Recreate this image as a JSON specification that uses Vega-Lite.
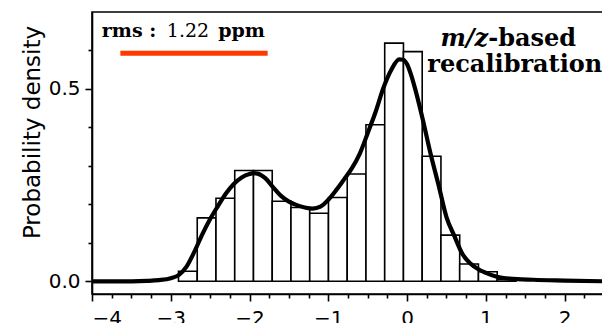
{
  "$schema": "https://vega.github.io/schema/vega-lite/v6.json",
  "autosize": {"type": "none"},
  "width": 512,
  "height": 282,
  "padding": {"left": 92, "top": 12, "right": 0, "bottom": 29},
  "background": "white",
  "config": {
    "view": {"stroke": "black", "strokeWidth": 1.6},
    "axis": {"grid": false, "domainColor": "black", "domainWidth": 1.6, "tickColor": "black", "tickWidth": 1.6, "labelColor": "black", "labelFont": "DejaVu Sans", "labelFontSize": 20, "titleFont": "DejaVu Sans", "titleFontSize": 23, "titleFontWeight": "normal", "titleColor": "black"}
  },
  "datasets": {
    "hist": [
      {"start": -2.902, "end": -2.664, "density": 0.026},
      {"start": -2.664, "end": -2.426, "density": 0.165},
      {"start": -2.426, "end": -2.188, "density": 0.216},
      {"start": -2.188, "end": -1.95, "density": 0.288},
      {"start": -1.95, "end": -1.712, "density": 0.288},
      {"start": -1.712, "end": -1.474, "density": 0.208},
      {"start": -1.474, "end": -1.236, "density": 0.192},
      {"start": -1.236, "end": -0.998, "density": 0.177},
      {"start": -0.998, "end": -0.76, "density": 0.218},
      {"start": -0.76, "end": -0.522, "density": 0.279},
      {"start": -0.522, "end": -0.284, "density": 0.407},
      {"start": -0.284, "end": -0.046, "density": 0.619},
      {"start": -0.046, "end": 0.192, "density": 0.597},
      {"start": 0.192, "end": 0.43, "density": 0.325},
      {"start": 0.43, "end": 0.668, "density": 0.12},
      {"start": 0.668, "end": 0.906, "density": 0.045},
      {"start": 0.906, "end": 1.144, "density": 0.025},
      {"start": 1.144, "end": 1.382, "density": 0.005}
    ],
    "kde": [
      {"x": -4.0, "y": 0}, {"x": -3.5, "y": 0}, {"x": -3.3, "y": 0.001}, {"x": -3.15, "y": 0.003},
      {"x": -3.0, "y": 0.008}, {"x": -2.9, "y": 0.016}, {"x": -2.8, "y": 0.038}, {"x": -2.7, "y": 0.077},
      {"x": -2.6, "y": 0.122}, {"x": -2.5, "y": 0.162}, {"x": -2.4, "y": 0.196}, {"x": -2.3, "y": 0.228},
      {"x": -2.2, "y": 0.253}, {"x": -2.1, "y": 0.27}, {"x": -2.0, "y": 0.279}, {"x": -1.95, "y": 0.281},
      {"x": -1.9, "y": 0.28}, {"x": -1.8, "y": 0.268}, {"x": -1.7, "y": 0.244}, {"x": -1.6, "y": 0.222},
      {"x": -1.5, "y": 0.207}, {"x": -1.4, "y": 0.198}, {"x": -1.3, "y": 0.192}, {"x": -1.2, "y": 0.189},
      {"x": -1.1, "y": 0.194}, {"x": -1.0, "y": 0.212}, {"x": -0.9, "y": 0.237}, {"x": -0.8, "y": 0.265},
      {"x": -0.7, "y": 0.294}, {"x": -0.6, "y": 0.332}, {"x": -0.5, "y": 0.385}, {"x": -0.4, "y": 0.44},
      {"x": -0.3, "y": 0.503}, {"x": -0.2, "y": 0.55}, {"x": -0.1, "y": 0.577}, {"x": -0.05, "y": 0.576},
      {"x": 0.0, "y": 0.564}, {"x": 0.05, "y": 0.537}, {"x": 0.1, "y": 0.502}, {"x": 0.2, "y": 0.42},
      {"x": 0.3, "y": 0.33}, {"x": 0.4, "y": 0.25}, {"x": 0.5, "y": 0.167}, {"x": 0.6, "y": 0.118},
      {"x": 0.7, "y": 0.072}, {"x": 0.8, "y": 0.047}, {"x": 0.9, "y": 0.032}, {"x": 1.0, "y": 0.022},
      {"x": 1.14, "y": 0.012}, {"x": 1.3, "y": 0.007}, {"x": 1.6, "y": 0.004}, {"x": 2.0, "y": 0.002},
      {"x": 2.5, "y": 0.0}
    ],
    "one": [{"k": 1}]
  },
  "layer": [
    {
      "data": {"name": "hist"},
      "mark": {"type": "bar", "fill": "white", "stroke": "black", "strokeWidth": 1.6, "clip": true},
      "encoding": {
        "x": {"field": "start", "type": "quantitative", "scale": {"domain": [-4, 2.5], "nice": false, "zero": false},
              "axis": {"orient": "bottom", "title": null, "values": [-4, -3, -2, -1, 0, 1, 2], "format": "d", "tickSize": 7, "labelPadding": 7}},
        "x2": {"field": "end"},
        "y": {"field": "density", "type": "quantitative", "scale": {"domain": [-0.033, 0.7], "nice": false, "zero": false},
              "axis": {"orient": "left", "title": "Probability density", "values": [0, 0.5], "format": ".1f", "tickSize": 7, "labelPadding": 5, "titlePadding": 4, "titleY": 120}},
        "y2": {"datum": 0}
      }
    },
    {
      "data": {"name": "kde"},
      "mark": {"type": "line", "stroke": "black", "strokeWidth": 4.2, "clip": true, "interpolate": "monotone"},
      "encoding": {
        "x": {"field": "x", "type": "quantitative",
              "axis": {"orient": "bottom", "title": null, "labels": false, "domain": false, "tickSize": 4,
                       "values": [-3.75, -3.5, -3.25, -2.75, -2.5, -2.25, -1.75, -1.5, -1.25, -0.75, -0.5, -0.25, 0.25, 0.5, 0.75, 1.25, 1.5, 1.75, 2.25, 2.5]}},
        "y": {"field": "y", "type": "quantitative",
              "axis": {"orient": "left", "title": null, "labels": false, "domain": false, "tickSize": 4, "values": [0.1, 0.2, 0.3, 0.4, 0.6]}}
      }
    },
    {
      "data": {"name": "one"},
      "mark": {"type": "rule", "stroke": "#ff3a00", "strokeWidth": 5},
      "encoding": {
        "x": {"datum": -3.64, "type": "quantitative", "axis": null},
        "x2": {"datum": -1.77},
        "y": {"datum": 0.593, "type": "quantitative", "axis": null}
      }
    },
    {
      "data": {"name": "one"},
      "mark": {"type": "text", "font": "DejaVu Serif", "fontSize": 19, "fontWeight": "bold", "align": "left", "baseline": "alphabetic", "color": "black"},
      "encoding": {
        "x": {"datum": -3.875, "type": "quantitative", "axis": null},
        "y": {"datum": 0.634, "type": "quantitative", "axis": null},
        "text": {"value": "rms :"}
      }
    },
    {
      "data": {"name": "one"},
      "mark": {"type": "text", "font": "DejaVu Serif", "fontSize": 19, "fontWeight": "normal", "align": "left", "baseline": "alphabetic", "color": "black"},
      "encoding": {
        "x": {"datum": -3.05, "type": "quantitative", "axis": null},
        "y": {"datum": 0.634, "type": "quantitative", "axis": null},
        "text": {"value": "1.22"}
      }
    },
    {
      "data": {"name": "one"},
      "mark": {"type": "text", "font": "DejaVu Serif", "fontSize": 19, "fontWeight": "bold", "align": "left", "baseline": "alphabetic", "color": "black"},
      "encoding": {
        "x": {"datum": -2.398, "type": "quantitative", "axis": null},
        "y": {"datum": 0.634, "type": "quantitative", "axis": null},
        "text": {"value": "ppm"}
      }
    },
    {
      "data": {"name": "one"},
      "mark": {"type": "text", "font": "DejaVu Serif", "fontSize": 24, "fontWeight": "bold", "fontStyle": "italic", "align": "right", "baseline": "alphabetic", "color": "black"},
      "encoding": {
        "x": {"datum": 1.03, "type": "quantitative", "axis": null},
        "y": {"datum": 0.6125, "type": "quantitative", "axis": null},
        "text": {"value": "m/z"}
      }
    },
    {
      "data": {"name": "one"},
      "mark": {"type": "text", "font": "DejaVu Serif", "fontSize": 24, "fontWeight": "bold", "align": "left", "baseline": "alphabetic", "color": "black"},
      "encoding": {
        "x": {"datum": 1.03, "type": "quantitative", "axis": null},
        "y": {"datum": 0.6125, "type": "quantitative", "axis": null},
        "text": {"value": "-based"}
      }
    },
    {
      "data": {"name": "one"},
      "mark": {"type": "text", "font": "DejaVu Serif", "fontSize": 24, "fontWeight": "bold", "align": "right", "baseline": "alphabetic", "color": "black"},
      "encoding": {
        "x": {"datum": 2.478, "type": "quantitative", "axis": null},
        "y": {"datum": 0.543, "type": "quantitative", "axis": null},
        "text": {"value": "recalibration"}
      }
    }
  ],
  "resolve": {"axis": {"x": "independent", "y": "independent"}}
}
